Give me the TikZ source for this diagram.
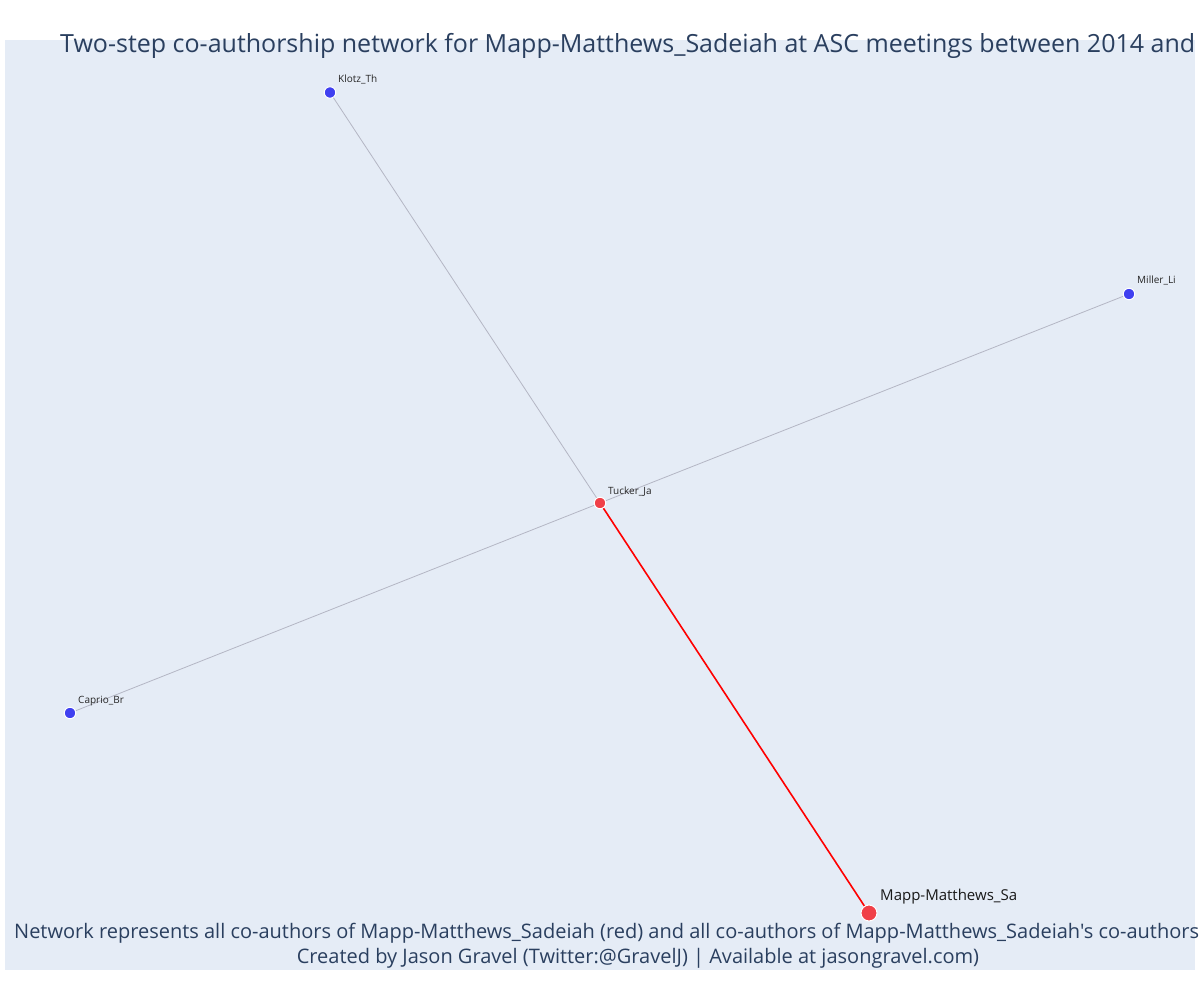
\documentclass[tikz,border=0pt]{standalone}
\usepackage{fontspec}
\setmainfont{Open Sans}[Ligatures=TeXOff]
\definecolor{plotbg}{HTML}{E5ECF6}
\definecolor{titlecol}{HTML}{2A3F5F}
\definecolor{bluenode}{HTML}{4040F0}
\definecolor{rednode}{HTML}{F04048}
\definecolor{edgegray}{HTML}{B4B6C4}
\tikzset{
  x=1pt, y=-1pt,
  author/.style={circle, fill=bluenode, draw=white, line width=1pt, minimum size=11.5pt, inner sep=0pt},
  redauthor/.style={author, fill=rednode},
  egoauthor/.style={author, fill=rednode, minimum size=16pt},
  lbl/.style={font=\fontsize{10}{12}\selectfont, text=black!85, anchor=base west, inner sep=0pt},
  biglbl/.style={font=\fontsize{15}{18}\selectfont, text=black!90, anchor=base west, inner sep=0pt},
  grayedge/.style={draw=edgegray, line width=0.8pt},
  rededge/.style={draw=red, line width=1.6pt},
  titletext/.style={font=\fontsize{25}{30}\selectfont, text=titlecol, anchor=base west, inner sep=0pt},
  notetext/.style={font=\fontsize{20}{24}\selectfont, text=titlecol, inner sep=0pt},
}
\begin{document}
\begin{tikzpicture}
\useasboundingbox (0,0) rectangle (1200,1000);
\fill[white] (0,0) rectangle (1200,1000);
\fill[plotbg] (5,40) rectangle (1195,970);
% node positions
\coordinate (klotz) at (330,92.5);
\coordinate (miller) at (1129,294);
\coordinate (tucker) at (600,503);
\coordinate (caprio) at (70,713);
\coordinate (mapp) at (869,913);
% edges
\draw[grayedge] (klotz) -- (tucker);
\draw[grayedge] (miller) -- (tucker);
\draw[grayedge] (caprio) -- (tucker);
\draw[rededge] (tucker) -- (mapp);
% nodes on top
\node[author] (nklotz) at (klotz) {};
\node[author] (nmiller) at (miller) {};
\node[redauthor] (ntucker) at (tucker) {};
\node[author] (ncaprio) at (caprio) {};
\node[egoauthor] (nmapp) at (mapp) {};
% labels
\node[lbl] (lklotz) at (338,83) {Klotz\_Th};
\node[lbl] (lmiller) at (1137,284) {Miller\_Li};
\node[lbl] (ltucker) at (608,494) {Tucker\_Ja};
\node[lbl] (lcaprio) at (78,703) {Caprio\_Br};
\node[biglbl] (lmapp) at (880,900) {Mapp-Matthews\_Sa};
% title and notes
\node[titletext] (title) at (60,53) {Two-step co-authorship network for Mapp-Matthews\_Sadeiah at ASC meetings between 2014 and};
\node[notetext, anchor=base west] (note1) at (14,938) {Network represents all co-authors of Mapp-Matthews\_Sadeiah (red) and all co-authors of Mapp-Matthews\_Sadeiah's co-authors};
\node[notetext, anchor=base] (note2) at (638,963) {Created by Jason Gravel (Twitter:@GravelJ) | Available at jasongravel.com)};
\end{tikzpicture}
\end{document}
